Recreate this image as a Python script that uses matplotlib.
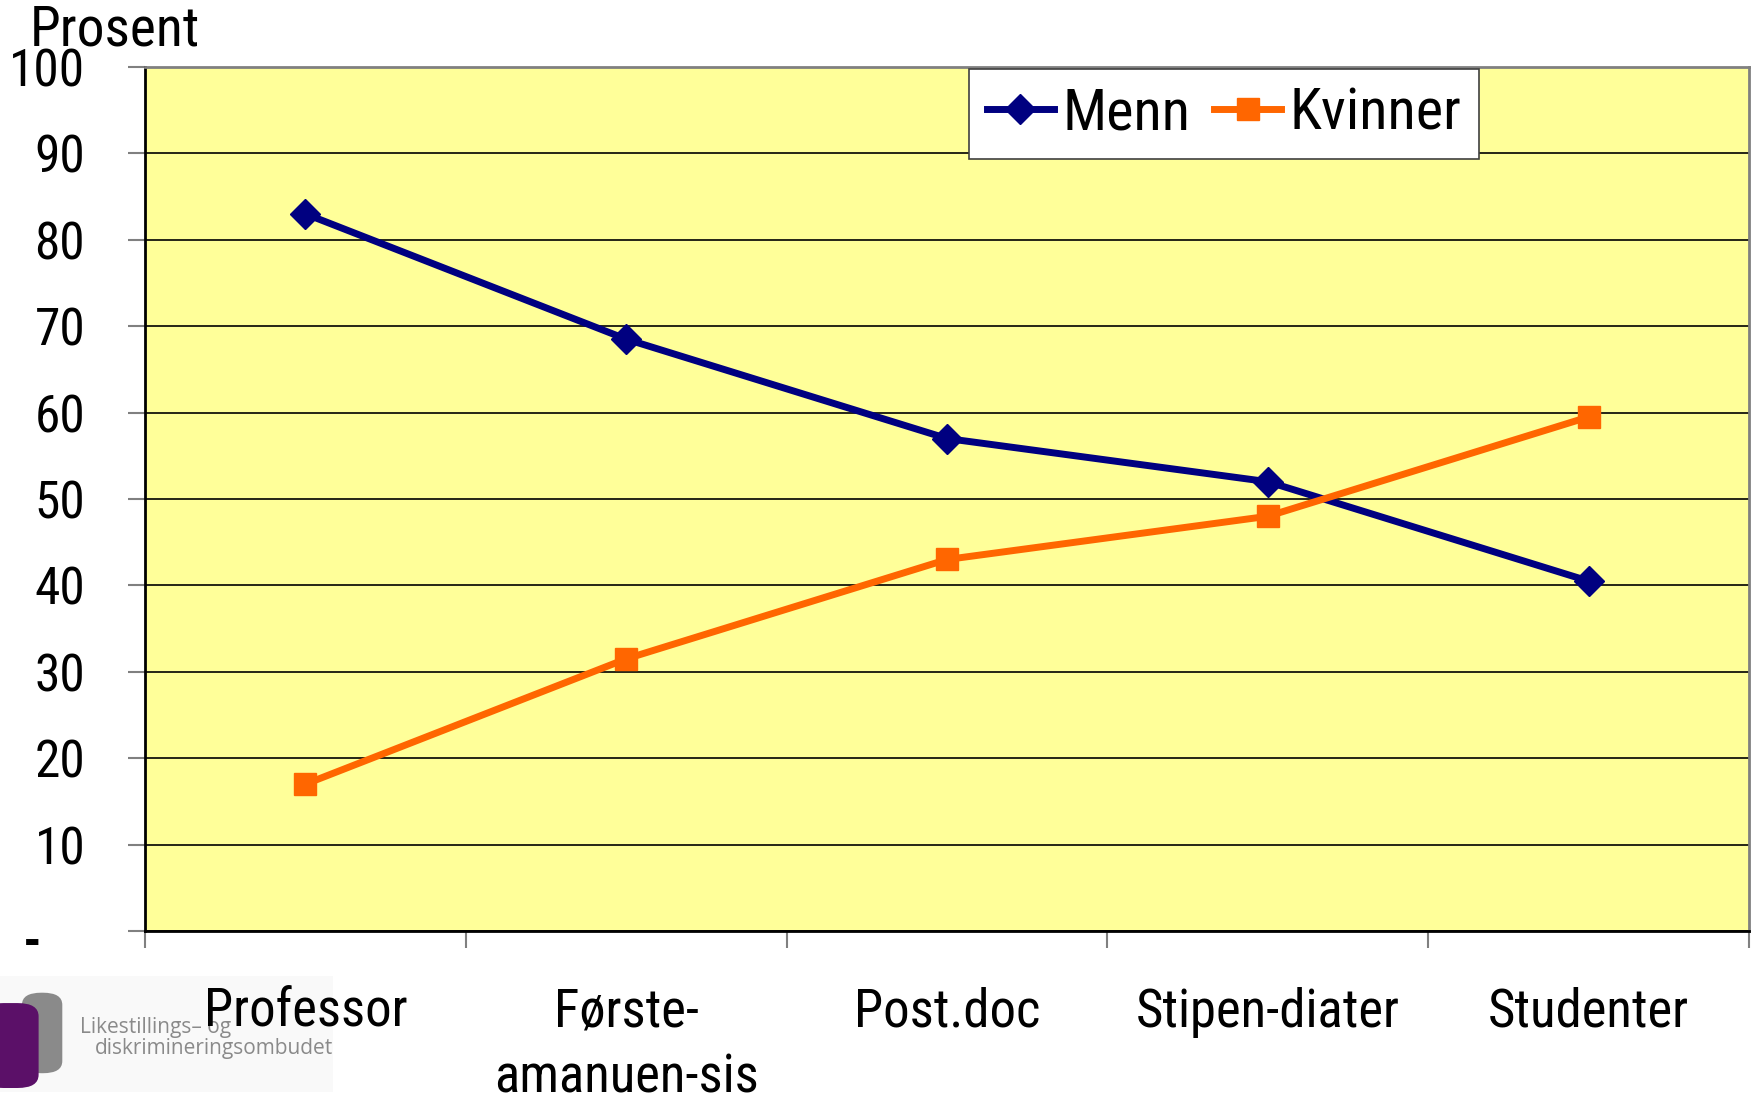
import matplotlib
matplotlib.use("Agg")
import matplotlib.pyplot as plt
from matplotlib.patches import FancyBboxPatch, Rectangle
from matplotlib.transforms import ScaledTranslation

categories = ["Professor", "Første-\namanuen-sis", "Post.doc", "Stipen-diater", "Studenter"]
menn = [83.0, 68.5, 57.0, 52.0, 40.5]
kvinner = [17.0, 31.5, 43.0, 48.0, 59.5]
y_ticks = [0, 10, 20, 30, 40, 50, 60, 70, 80, 90, 100]
y_tick_labels = ["-", "10", "20", "30", "40", "50", "60", "70", "80", "90", "100"]

NAVY = "#000080"
ORANGE = "#FF6600"
PLOT_BG = "#FFFF99"

plt.rcParams["font.family"] = ["Roboto Condensed", "Liberation Sans", "DejaVu Sans"]

fig = plt.figure(figsize=(17.55, 11.03), dpi=100)
ax = fig.add_axes([0.0826, 0.1559, 0.9140, 0.7834])
ax.set_facecolor(PLOT_BG)

x = list(range(len(categories)))
ax.plot(x, menn, color=NAVY, lw=5, marker="D", ms=15, label="Menn", zorder=3)
ax.plot(x, kvinner, color=ORANGE, lw=5, marker="s", ms=16, label="Kvinner", zorder=3)

ax.set_xlim(-0.5, len(categories) - 0.5)
ax.set_ylim(0, 100)
ax.set_yticks(y_ticks)
ax.set_yticklabels(y_tick_labels, fontsize=37)
ax.yaxis.grid(True, color="black", lw=1.2)
ax.set_axisbelow(True)

# category labels sit between the boundary tick marks
ax.set_xticks([i - 0.5 for i in range(len(categories) + 1)])
ax.set_xticklabels([""] * (len(categories) + 1))
ax.set_xticks(x, minor=True)
ax.set_xticklabels(categories, minor=True, fontsize=38, linespacing=1.38)
ax.tick_params(axis="x", which="minor", length=0, pad=40)
ax.tick_params(axis="x", which="major", length=12, width=1.5, color="#808080")
ax.tick_params(axis="y", length=12, width=1.5, color="#808080", pad=31)

# the zero label "-" sits further left and a bit lower, as in the source
zero_lbl = ax.get_yticklabels()[0]
zero_lbl.set_fontweight("bold")
zero_lbl.set_transform(zero_lbl.get_transform()
                       + ScaledTranslation(-0.44, -0.07, fig.dpi_scale_trans))

for side in ("left", "bottom"):
    ax.spines[side].set_color("black")
    ax.spines[side].set_linewidth(2)
for side in ("top", "right"):
    ax.spines[side].set_color("#808080")
    ax.spines[side].set_linewidth(2)

leg = ax.legend(loc="upper left", bbox_to_anchor=(0.514, 0.9977), borderaxespad=0,
                ncol=2, fontsize=42, frameon=True, fancybox=False, edgecolor="#404040",
                framealpha=1, handlelength=1.15, handletextpad=0.15, columnspacing=0.4,
                borderpad=0.3)
leg.get_frame().set_linewidth(1.2)

fig.text(0.017, 0.973, "Prosent", fontsize=40, ha="left", va="center")

# logo in the lower left corner, drawn under the axes labels
fig.patches.append(Rectangle((0.0, 0.01), 0.19, 0.105, transform=fig.transFigure,
                             facecolor="#F9F9F9", edgecolor="none", zorder=-3))
fig.patches.append(FancyBboxPatch((0.0125, 0.027), 0.023, 0.073, transform=fig.transFigure,
                                  boxstyle="round,pad=0.0,rounding_size=0.011",
                                  facecolor="#8A8A8A", edgecolor="none", zorder=-2))
fig.patches.append(FancyBboxPatch((-0.01, 0.0136), 0.032, 0.077, transform=fig.transFigure,
                                  boxstyle="round,pad=0.0,rounding_size=0.012",
                                  facecolor="#5B1068", edgecolor="none", zorder=-1))
fig.text(0.0456, 0.068, "Likestillings– og", fontsize=15, color="#8A8A8A",
         family=["Open Sans", "DejaVu Sans"], ha="left", va="center", zorder=-1)
fig.text(0.054, 0.049, "diskrimineringsombudet", fontsize=15, color="#8A8A8A",
         family=["Open Sans", "DejaVu Sans"], ha="left", va="center", zorder=-1)

fig.savefig("out.png", dpi=100)
